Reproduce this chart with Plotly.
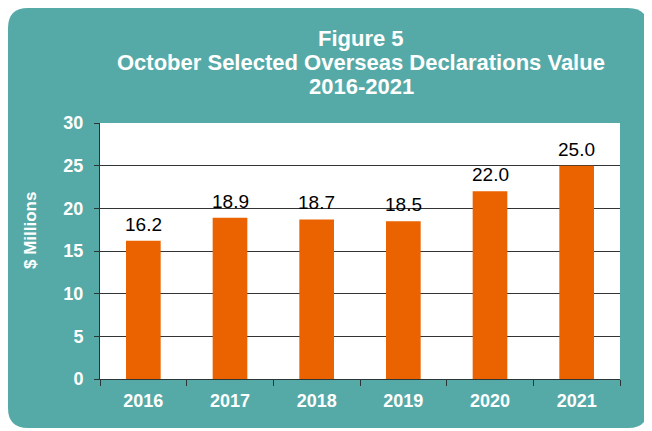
import plotly.graph_objects as go

years = ["2016", "2017", "2018", "2019", "2020", "2021"]
values = [16.2, 18.9, 18.7, 18.5, 22.0, 25.0]
y_ticks = [0, 5, 10, 15, 20, 25, 30]
title_lines = ["Figure 5", "October Selected Overseas Declarations Value", "2016-2021"]

# The page body adds an 8px margin, so lay the figure out in page pixels minus 8.
OFF = 8
W, H = 652 - OFF, 431 - OFF
L, R, T, B = 100 - OFF, 620 - OFF, 123 - OFF, 379 - OFF  # plot area in figure pixels

TEAL = "#55aaa8"
ORANGE = "#eb6200"
DARK = "#2a3535"
FONT = "Liberation Sans, Arial, sans-serif"


def px(x):
    return (x - L) / (R - L)


def py(y):
    return (B - y) / (B - T)


def rounded_rect(x0, y0, x1, y1, r):
    pts = [
        f"M {px(x0 + r)} {py(y0)}",
        f"L {px(x1 - r)} {py(y0)}",
        f"Q {px(x1)} {py(y0)} {px(x1)} {py(y0 + r)}",
        f"L {px(x1)} {py(y1 - r)}",
        f"Q {px(x1)} {py(y1)} {px(x1 - r)} {py(y1)}",
        f"L {px(x0 + r)} {py(y1)}",
        f"Q {px(x0)} {py(y1)} {px(x0)} {py(y1 - r)}",
        f"L {px(x0)} {py(y0 + r)}",
        f"Q {px(x0)} {py(y0)} {px(x0 + r)} {py(y0)}",
        "Z",
    ]
    return " ".join(pts)


fig = go.Figure()
fig.add_trace(go.Bar(
    x=years,
    y=values,
    marker=dict(color=ORANGE, line=dict(width=0)),
    width=0.40,
    hoverinfo="skip",
))

# value labels above the bars (x given as category index)
annotations = [
    dict(
        text=f"{v:.1f}",
        x=i, y=v, xref="x", yref="y",
        xanchor="center", yanchor="bottom",
        yshift=4,
        showarrow=False,
        font=dict(color="black", size=19, family=FONT),
    )
    for i, v in enumerate(values)
]

title_y = [38 - OFF, 62 - OFF, 86 - OFF]
annotations += [
    dict(
        text=f"<b>{line}</b>",
        xref="paper", yref="paper",
        x=px(361 - OFF), y=py(yy),
        xanchor="center", yanchor="middle",
        showarrow=False,
        font=dict(color="white", size=22, family=FONT),
    )
    for line, yy in zip(title_lines, title_y)
]
annotations.append(dict(
    text="<b>$ Millions</b>",
    xref="paper", yref="paper",
    x=px(30 - OFF), y=py(231 - OFF),
    xanchor="center", yanchor="middle",
    textangle=-90,
    showarrow=False,
    font=dict(color="white", size=17, family=FONT),
))

fig.update_layout(
    width=W,
    height=H,
    margin=dict(l=L, r=W - R, t=T, b=H - B, pad=0),
    paper_bgcolor="white",
    plot_bgcolor="white",
    showlegend=False,
    font=dict(family=FONT),
    shapes=[
        dict(
            type="path", xref="paper", yref="paper",
            path=rounded_rect(0, 0, 648 - OFF, 428 - OFF, 20),
            fillcolor=TEAL, line=dict(width=0), layer="below",
        ),
        dict(
            type="rect", xref="paper", yref="paper",
            x0=0, x1=1, y0=0, y1=1,
            fillcolor="white", line=dict(width=0), layer="below",
        ),
    ],
    yaxis=dict(
        range=[0, 30],
        tickvals=y_ticks,
        ticks="outside",
        ticklen=5,
        tickcolor=DARK,
        showline=True,
        linecolor=DARK,
        linewidth=1,
        showgrid=True,
        gridcolor="#333333",
        gridwidth=1,
        zeroline=False,
        tickfont=dict(color="white", size=18, family=FONT, weight="bold"),
        ticklabelstandoff=7,
        fixedrange=True,
    ),
    xaxis=dict(
        type="category",
        categoryorder="array",
        categoryarray=years,
        range=[-0.5, len(years) - 0.5],
        ticks="outside",
        tickson="boundaries",
        ticklen=6,
        tickcolor=DARK,
        showline=True,
        linecolor=DARK,
        linewidth=1,
        showgrid=False,
        tickfont=dict(color="white", size=18, family=FONT, weight="bold"),
        ticklabelstandoff=5,
        fixedrange=True,
    ),
    annotations=annotations,
)

fig.write_html("out.html")
